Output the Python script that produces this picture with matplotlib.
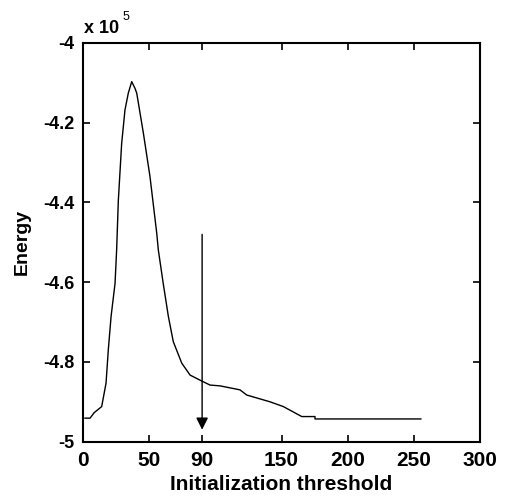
import matplotlib
matplotlib.use("Agg")
import matplotlib.pyplot as plt

# energy curve (values in units of 1e5)
threshold = [1.5, 5.3, 8.5, 14.1, 17.4, 19.1, 21.2, 24.2, 25.4, 26.7, 29.2, 31.7,
             34.2, 36.8, 39.3, 40.6, 45.6, 50.6, 55.7, 56.9, 60.6, 64.5, 68.2,
             74.6, 80.9, 90.4, 96.0, 103.5, 118.6, 123.7, 141.3, 151.4, 165.3,
             175.3, 175.3, 255.3]
energy = [-4.941, -4.941, -4.927, -4.912, -4.853, -4.770, -4.686, -4.603, -4.519,
          -4.394, -4.252, -4.168, -4.126, -4.097, -4.114, -4.126, -4.226, -4.335,
          -4.477, -4.519, -4.603, -4.686, -4.749, -4.803, -4.833, -4.849, -4.858,
          -4.860, -4.870, -4.883, -4.900, -4.912, -4.937, -4.937, -4.943, -4.943]

xticks = [0, 50, 90, 150, 200, 250, 300]
yticks = [-5, -4.8, -4.6, -4.4, -4.2, -4]
ytick_labels = ["-5", "-4.8", "-4.6", "-4.4", "-4.2", "-4"]

arrow_x = 90
arrow_top = -4.48
arrow_tip = -4.97

plt.rcParams['font.family'] = ['Liberation Sans', 'DejaVu Sans']
plt.rcParams['axes.unicode_minus'] = False

fig = plt.figure(figsize=(5.05, 4.98), dpi=100)
ax = fig.add_axes([0.1644, 0.1131, 0.7861, 0.8006])

ax.plot(threshold, energy, color='black', linewidth=1.0)
ax.annotate('', xy=(arrow_x, arrow_tip), xytext=(arrow_x, arrow_top),
            arrowprops=dict(arrowstyle='-|>', color='black', lw=1.0,
                            mutation_scale=18, shrinkA=0, shrinkB=0))

ax.set_xlim(0, 300)
ax.set_ylim(-5, -4)
ax.set_xticks(xticks)
ax.set_xticklabels([str(t) for t in xticks], fontsize=15, fontweight='bold')
ax.set_yticks(yticks)
ax.set_yticklabels(ytick_labels, fontsize=13, fontweight='bold')
ax.tick_params(direction='in', length=5, width=1.2, top=True, right=True)
ax.tick_params(axis='x', pad=7)
ax.tick_params(axis='y', pad=6)
for s in ax.spines.values():
    s.set_linewidth(1.5)

ax.set_xlabel("Initialization threshold", fontsize=15, fontweight='bold',
              labelpad=3)
ax.set_ylabel("Energy", fontsize=14, fontweight='bold', labelpad=9)

fig.text(0.166, 0.933, "x 10", fontsize=13, fontweight='bold')
fig.text(0.243, 0.96, "5", fontsize=9)

fig.savefig("out.png", dpi=100)
